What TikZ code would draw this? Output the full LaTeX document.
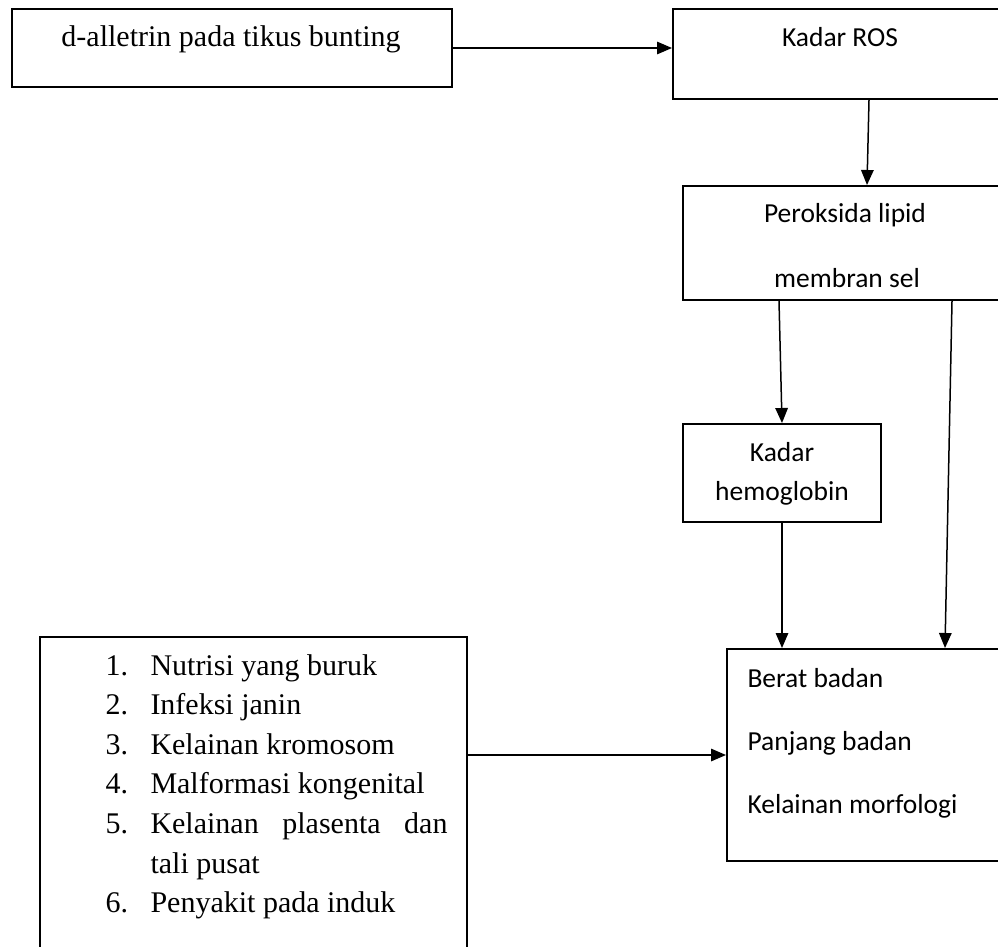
\documentclass[tikz,border=0pt]{standalone}
\usepackage{fontspec}
\setmainfont{Liberation Serif}
\newfontfamily\calibri{Carlito}
\usetikzlibrary{positioning, arrows.meta, calc, fit}

\tikzset{
  box/.style={draw, line width=0.8pt, inner sep=0pt},
  txt/.style={anchor=base, inner sep=0pt, font=\fontsize{12}{14}\selectfont},
  ctxt/.style={anchor=base, inner sep=0pt, font=\calibri\fontsize{11}{13}\selectfont},
  item/.style={txt, anchor=base west},
  arr/.style={-{Triangle[length=6pt,width=5pt]}, line width=0.6pt},
}

\begin{document}
\begin{tikzpicture}[x=0.4pt, y=-0.4pt]
  \useasboundingbox (0,0) rectangle (998,946);
  % boxes
  \node[box, fit={(12,9) (452,87)}] (dal) {};
  \node[box, fit={(673,9) (1007,99)}] (ros) {};
  \node[box, fit={(683,186) (1007,300)}] (lipid) {};
  \node[box, fit={(683,424) (881,522)}] (hb) {};
  \node[box, fit={(727,649) (1007,861)}] (berat) {};
  \node[box, fit={(40,637) (467,960)}] (faktor) {};
  % texts
  \node[txt] (tdal) at (231,47) {d-alletrin pada tikus bunting};
  \node[ctxt] (tros) at (840,47) {Kadar ROS};
  \node[ctxt] (tlip1) at (845,222) {Peroksida lipid};
  \node[ctxt] (tlip2) at (847,287) {membran sel};
  \node[ctxt] (thb1) at (782,461) {Kadar};
  \node[ctxt] (thb2) at (782,500) {hemoglobin};
  \node[ctxt, anchor=base west] (tbb) at (747,687) {Berat badan};
  \node[ctxt, anchor=base west] (tpb) at (747,750) {Panjang badan};
  \node[ctxt, anchor=base west] (tkm) at (747,813) {Kelainan morfologi};
  % list
  \node[item] (f1) at (105,675) {\makebox[18pt][l]{1.}Nutrisi yang buruk};
  \node[item] (f2) at (105,714) {\makebox[18pt][l]{2.}Infeksi janin};
  \node[item] (f3) at (105,754) {\makebox[18pt][l]{3.}Kelainan kromosom};
  \node[item] (f4) at (105,793) {\makebox[18pt][l]{4.}Malformasi kongenital};
  \node[item] (f5) at (105,833) {\makebox[18pt][l]{5.}\makebox[118.8pt][s]{Kelainan plasenta dan}};
  \node[item] (f5b) at (150,873) {tali pusat};
  \node[item] (f6) at (105,912) {\makebox[18pt][l]{6.}Penyakit pada induk};
  % arrows
  \draw[arr] (dal.east) -- (dal.east -| ros.west);
  \draw[arr] ($(ros.south west)+(197,0)$) -- ($(lipid.north west)+(185,0)$);
  \draw[arr] ($(lipid.south west)+(97,0)$) -- (hb.north);
  \draw[arr] ($(lipid.south west)+(270,0)$) -- ($(berat.north west)+(219,0)$);
  \draw[arr] (hb.south) -- (hb.south |- berat.north);
  \draw[arr] (berat.west -| faktor.east) -- (berat.west);
\end{tikzpicture}
\end{document}
